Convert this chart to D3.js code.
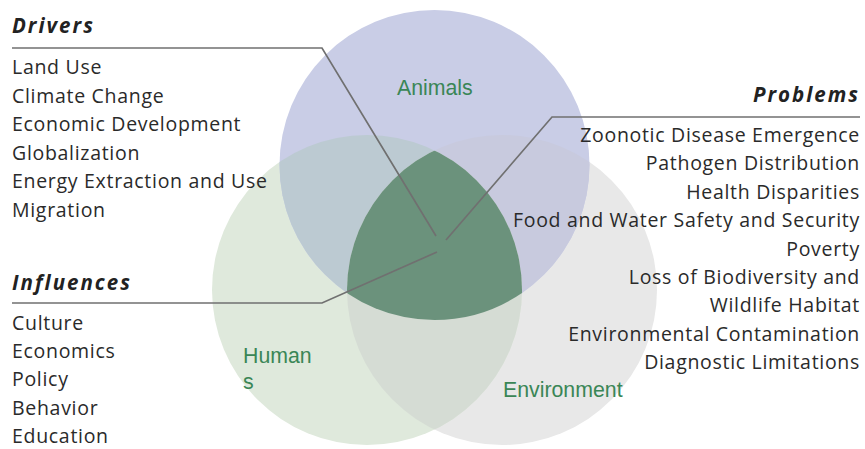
<!DOCTYPE html>
<html><head><meta charset="utf-8">
<script src="https://cdn.jsdelivr.net/npm/d3@7"></script>
<style>html,body{margin:0;padding:0;background:#fff;overflow:hidden}svg{display:block}</style>
</head><body>
<script>
// ---- data ----
const setNames = ["Animals", "Humans", "Environment"];
const setLabelLines = [["Animals"], ["Human", "s"], ["Environment"]];
const groupTitles = ["Drivers", "Influences", "Problems"];
const drivers = ["Land Use", "Climate Change", "Economic Development", "Globalization", "Energy Extraction and Use", "Migration"];
const influences = ["Culture", "Economics", "Policy", "Behavior", "Education"];
const problems = ["Zoonotic Disease Emergence", "Pathogen Distribution", "Health Disparities", "Food and Water Safety and Security", "Poverty", "Loss of Biodiversity and", "Wildlife Habitat", "Environmental Contamination", "Diagnostic Limitations"];

// ---- layout / style ----
const W = 865, H = 449;
const svg = d3.select("body").append("svg").attr("width", W).attr("height", H);
const R = 155;
const sx = d3.scaleLinear().domain([-1, 1]).range([434.5 - R, 434.5 + R]);
const sy = d3.scaleLinear().domain([-1, 1]).range([290 - R, 290 + R]);
const unitCenters = [[0, -125 / R], [-67.5 / R, 0], [67.5 / R, 0]];
const circles = setNames.map((n, i) => ({name: n, cx: sx(unitCenters[i][0]), cy: sy(unitCenters[i][1]), r: sx(1) - sx(0)}));
const soloColors = ["#c9cde6", "#dfe9dc", "#e8e8e8"];
const colAH = "#bccad2", colAE = "#c8cade", colHE = "#d5dcd4", colAll = "#6b927c";

const defs = svg.append("defs");
circles.forEach((c, i) => {
  defs.append("clipPath").attr("id", "clip" + i)
    .append("circle").attr("cx", c.cx).attr("cy", c.cy).attr("r", c.r);
});
defs.append("clipPath").attr("id", "clipAH").attr("clip-path", "url(#clip1)")
  .append("circle").attr("cx", circles[0].cx).attr("cy", circles[0].cy).attr("r", circles[0].r);

const g = svg.append("g");
[2, 1, 0].forEach(i => {
  g.append("circle").attr("cx", circles[i].cx).attr("cy", circles[i].cy).attr("r", circles[i].r).attr("fill", soloColors[i]);
});
g.append("circle").datum(circles[1]).attr("cx", d => d.cx).attr("cy", d => d.cy).attr("r", d => d.r)
  .attr("clip-path", "url(#clip0)").attr("fill", colAH);
g.append("circle").datum(circles[2]).attr("cx", d => d.cx).attr("cy", d => d.cy).attr("r", d => d.r)
  .attr("clip-path", "url(#clip0)").attr("fill", colAE);
g.append("circle").datum(circles[2]).attr("cx", d => d.cx).attr("cy", d => d.cy).attr("r", d => d.r)
  .attr("clip-path", "url(#clip1)").attr("fill", colHE);
g.append("g").attr("clip-path", "url(#clipAH)")
  .append("circle").datum(circles[2]).attr("cx", d => d.cx).attr("cy", d => d.cy).attr("r", d => d.r)
  .attr("fill", colAll);

// set labels
const labelPos = [[397, 95], [243, 363], [503, 397]];
setLabelLines.forEach((lines, i) => {
  const t = svg.append("text").attr("x", labelPos[i][0]).attr("y", labelPos[i][1])
    .attr("font-family", "'Liberation Sans', Arial, sans-serif").attr("font-size", 21.3).attr("fill", "#3a8656");
  lines.forEach((l, j) => t.append("tspan").attr("x", labelPos[i][0]).attr("dy", j ? 26 : 0).text(l));
});

// leader lines
const line = d3.line();
const leaderStyle = sel => sel.attr("fill", "none").attr("stroke", "#707070").attr("stroke-width", 1.7);
svg.append("path").attr("d", line([[12, 48], [322, 48], [436, 236]])).call(leaderStyle);
svg.append("path").attr("d", line([[12, 303], [322, 303], [437, 252]])).call(leaderStyle);
svg.append("path").attr("d", line([[860, 117], [552, 117], [446, 240]])).call(leaderStyle);

const bodyFont = "'Open Sans', Lato, sans-serif";
const headStyle = sel => sel.attr("font-family", bodyFont).attr("font-size", 20.5).attr("font-weight", "bold")
  .attr("font-style", "italic").attr("letter-spacing", 2).attr("fill", "#222");
const itemStyle = sel => sel.attr("font-family", bodyFont).attr("font-size", 19.5).attr("letter-spacing", 0.7).attr("fill", "#2a2a2a");

svg.append("text").attr("x", 12).attr("y", 33).text(groupTitles[0]).call(headStyle);
svg.append("text").attr("x", 12).attr("y", 290).text(groupTitles[1]).call(headStyle);
svg.append("text").attr("x", 860).attr("y", 102).attr("text-anchor", "end").text(groupTitles[2]).call(headStyle);

svg.selectAll("text.drv").data(drivers).join("text").attr("class", "drv")
  .attr("x", 12).attr("y", (d, i) => 74 + i * 28.5).text(d => d).call(itemStyle);
svg.selectAll("text.inf").data(influences).join("text").attr("class", "inf")
  .attr("x", 12).attr("y", (d, i) => 330 + i * 28.2).text(d => d).call(itemStyle);
svg.selectAll("text.prb").data(problems).join("text").attr("class", "prb")
  .attr("x", 860).attr("y", (d, i) => 142 + i * 28.4).attr("text-anchor", "end").text(d => d).call(itemStyle);
</script>
</body></html>
